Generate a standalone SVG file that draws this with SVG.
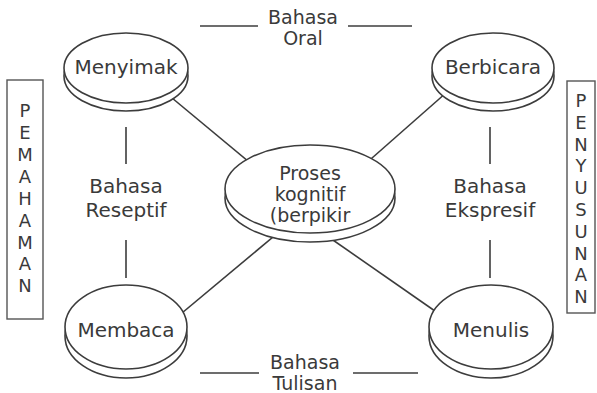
<svg xmlns="http://www.w3.org/2000/svg" width="597" height="393" viewBox="0 0 597 393">
<style>
.ln{stroke:#3c3c3c;stroke-width:1.6;fill:none}
.disc{fill:#fff;stroke:#3c3c3c;stroke-width:1.6}
.t{font-family:"DejaVu Sans",sans-serif;font-size:20px;fill:#3a3a3a;text-anchor:middle}
.s{font-size:19px}
.v{font-size:18px}
.box{fill:#fff;stroke:#555;stroke-width:1.4}
</style>
<rect width="597" height="393" fill="#fff"/>
<g id="connectors">
<line class="ln" x1="160" y1="88" x2="260" y2="171"/>
<line class="ln" x1="455" y1="85" x2="355" y2="173"/>
<line class="ln" x1="170" y1="323" x2="285" y2="227"/>
<line class="ln" x1="445" y1="318" x2="320" y2="231"/>
<line class="ln" x1="126" y1="127" x2="126" y2="164"/>
<line class="ln" x1="126" y1="240" x2="126" y2="278"/>
<line class="ln" x1="490" y1="127" x2="490" y2="164"/>
<line class="ln" x1="490" y1="240" x2="490" y2="278"/>
<line class="ln" x1="200" y1="26" x2="258" y2="26"/>
<line class="ln" x1="348" y1="26" x2="412" y2="26"/>
<line class="ln" x1="200" y1="373" x2="259" y2="373"/>
<line class="ln" x1="353" y1="373" x2="418" y2="373"/>
</g>
<g id="label-oral"><text class="t s" x="303" y="24">Bahasa</text><text class="t s" x="303" y="45">Oral</text></g>
<g id="label-tulisan"><text class="t s" x="305" y="369">Bahasa</text><text class="t s" x="305" y="390">Tulisan</text></g>
<g id="label-reseptif"><text class="t" x="126" y="193">Bahasa</text><text class="t" x="126" y="217">Reseptif</text></g>
<g id="label-ekspresif"><text class="t" x="490" y="193">Bahasa</text><text class="t" x="490" y="217">Ekspresif</text></g>
<g id="menyimak">
<ellipse class="disc" cx="126" cy="76" rx="62" ry="35"/>
<ellipse class="disc" cx="126" cy="68" rx="62" ry="35"/>
<text class="t" x="126" y="74">Menyimak</text>
</g>
<g id="berbicara">
<ellipse class="disc" cx="493" cy="76" rx="61" ry="35"/>
<ellipse class="disc" cx="493" cy="68" rx="61" ry="35"/>
<text class="t" x="493" y="74">Berbicara</text>
</g>
<g id="membaca">
<ellipse class="disc" cx="126" cy="336" rx="61" ry="42"/>
<ellipse class="disc" cx="126" cy="327" rx="61" ry="42"/>
<text class="t" x="126" y="337">Membaca</text>
</g>
<g id="menulis">
<ellipse class="disc" cx="491" cy="336" rx="62" ry="42"/>
<ellipse class="disc" cx="491" cy="327" rx="62" ry="42"/>
<text class="t" x="491" y="337">Menulis</text>
</g>
<g id="proses">
<ellipse class="disc" cx="310" cy="198" rx="85" ry="44"/>
<ellipse class="disc" cx="310" cy="189" rx="85" ry="44"/>
<text class="t s" x="310" y="180">Proses</text>
<text class="t s" x="310" y="201">kognitif</text>
<text class="t s" x="310" y="222">(berpikir</text>
</g>
<g id="pemahaman">
<rect class="box" x="7" y="80" width="36" height="239"/>
<text class="t v">
<tspan x="25" y="117">P</tspan><tspan x="25" y="139">E</tspan><tspan x="25" y="161">M</tspan><tspan x="25" y="183">A</tspan><tspan x="25" y="205">H</tspan><tspan x="25" y="227">A</tspan><tspan x="25" y="249">M</tspan><tspan x="25" y="270">A</tspan><tspan x="25" y="292">N</tspan>
</text>
</g>
<g id="penyusunan">
<rect class="box" x="567" y="81" width="28" height="232"/>
<text class="t v">
<tspan x="581" y="107">P</tspan><tspan x="581" y="129">E</tspan><tspan x="581" y="151">N</tspan><tspan x="581" y="172">Y</tspan><tspan x="581" y="194">U</tspan><tspan x="581" y="216">S</tspan><tspan x="581" y="238">U</tspan><tspan x="581" y="260">N</tspan><tspan x="581" y="281">A</tspan><tspan x="581" y="303">N</tspan>
</text>
</g>
</svg>
